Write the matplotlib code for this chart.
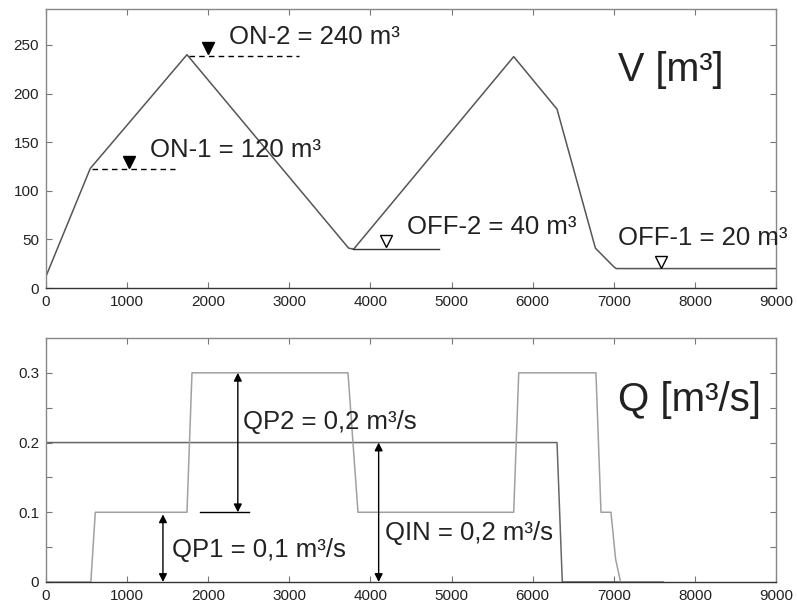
import matplotlib
matplotlib.use("Agg")
import matplotlib.pyplot as plt
import numpy as np

plt.rcParams['font.family'] = ['Liberation Sans', 'DejaVu Sans']

# volume in the tank
t_v = [0, 546, 1738, 3731, 3793, 5766, 6300, 6773, 6998, 7030, 9000]
v = [12, 123, 240, 41, 40, 238, 184, 41, 22, 20, 20]

# pump discharge
t_qp = [0, 553, 608, 1738, 1800, 3723, 3846, 5766, 5828, 6780, 6842, 6965, 7022, 7083, 7610]
qp = [0, 0, 0.1, 0.1, 0.3, 0.3, 0.1, 0.1, 0.3, 0.3, 0.1, 0.1, 0.033, 0, 0]

# inflow
t_qin = [0, 6300, 6365, 7610]
qin = [0.2, 0.2, 0, 0]

x_ticks = list(range(0, 9001, 1000))
v_ticks = [0, 50, 100, 150, 200, 250]
q_ticks = [0, 0.05, 0.1, 0.15, 0.2, 0.25, 0.3]
q_labels = ['0', '', '0.1', '', '0.2', '', '0.3']

fig = plt.figure(figsize=(7.97, 6.08), dpi=100)
ax1 = fig.add_axes([0.0577, 0.5263, 0.916, 0.4589])
ax2 = fig.add_axes([0.0577, 0.0428, 0.916, 0.4013])

for ax in (ax1, ax2):
    ax.set_xlim(0, 9000)
    ax.set_xticks(x_ticks)
    ax.tick_params(direction='in', length=4, width=0.8, color='#777777',
                   labelsize=11, top=True, right=True, pad=5, labelcolor='#222222')
    for s in ax.spines.values():
        s.set_color('#888888')
        s.set_linewidth(1.0)
    ax.spines['bottom'].set_color('#333333')

# top: volume
ax1.set_ylim(0, 287)
ax1.set_yticks(v_ticks)
ax1.plot(t_v, v, color='#555555', lw=1.1)
ax1.plot([566, 1594], [122, 122], color='black', lw=1, ls=(0, (4, 3)))
ax1.plot([1758, 3115], [239, 239], color='black', lw=1, ls=(0, (4, 3)))
ax1.plot([3790, 4849], [40, 40], color='#333333', lw=1)
ax1.plot([1018], [130], marker='v', ms=9, color='black', ls='none')
ax1.plot([1993], [247], marker='v', ms=9, color='black', ls='none')
ax1.plot([4192], [48], marker='v', ms=9, mfc='white', mec='black', mew=1, ls='none')
ax1.plot([7582], [27], marker='v', ms=9, mfc='white', mec='black', mew=1, ls='none')

ax1.text(2260, 258, 'ON-2 = 240 m³', fontsize=18.5, va='center', color='#222222')
ax1.text(1286, 142, 'ON-1 = 120 m³', fontsize=18.5, va='center', color='#222222')
ax1.text(4455, 63, 'OFF-2 = 40 m³', fontsize=18.5, va='center', color='#222222')
ax1.text(7056, 51, 'OFF-1 = 20 m³', fontsize=18.5, va='center', color='#222222', clip_on=False)
ax1.text(7056, 224, 'V [m³]', fontsize=28.5, va='center', color='#222222')

# bottom: discharge
ax2.set_ylim(0, 0.35)
ax2.set_yticks(q_ticks)
ax2.set_yticklabels(q_labels)
ax2.plot(t_qin, qin, color='#666666', lw=1.1)
ax2.plot(t_qp, qp, color='#a0a0a0', lw=1.1)
ax2.plot([1903, 2498], [0.1, 0.1], color='black', lw=1)

arrow = dict(arrowstyle='<|-|>', color='black', lw=1, mutation_scale=12, shrinkA=0, shrinkB=0)
ax2.annotate('', xy=(2365, 0.1), xytext=(2365, 0.3), arrowprops=arrow)
ax2.annotate('', xy=(1442, 0.0), xytext=(1442, 0.097), arrowprops=arrow)
ax2.annotate('', xy=(4101, 0.0), xytext=(4101, 0.2), arrowprops=arrow)

ax2.text(2433, 0.23, 'QP2 = 0,2 m³/s', fontsize=18.5, va='center', color='#222222')
ax2.text(1553, 0.046, 'QP1 = 0,1 m³/s', fontsize=18.5, va='center', color='#222222')
ax2.text(4184, 0.070, 'QIN = 0,2 m³/s', fontsize=18.5, va='center', color='#222222')
ax2.text(7056, 0.261, 'Q [m³/s]', fontsize=29, va='center', color='#222222')

fig.savefig('out.png', dpi=100)
